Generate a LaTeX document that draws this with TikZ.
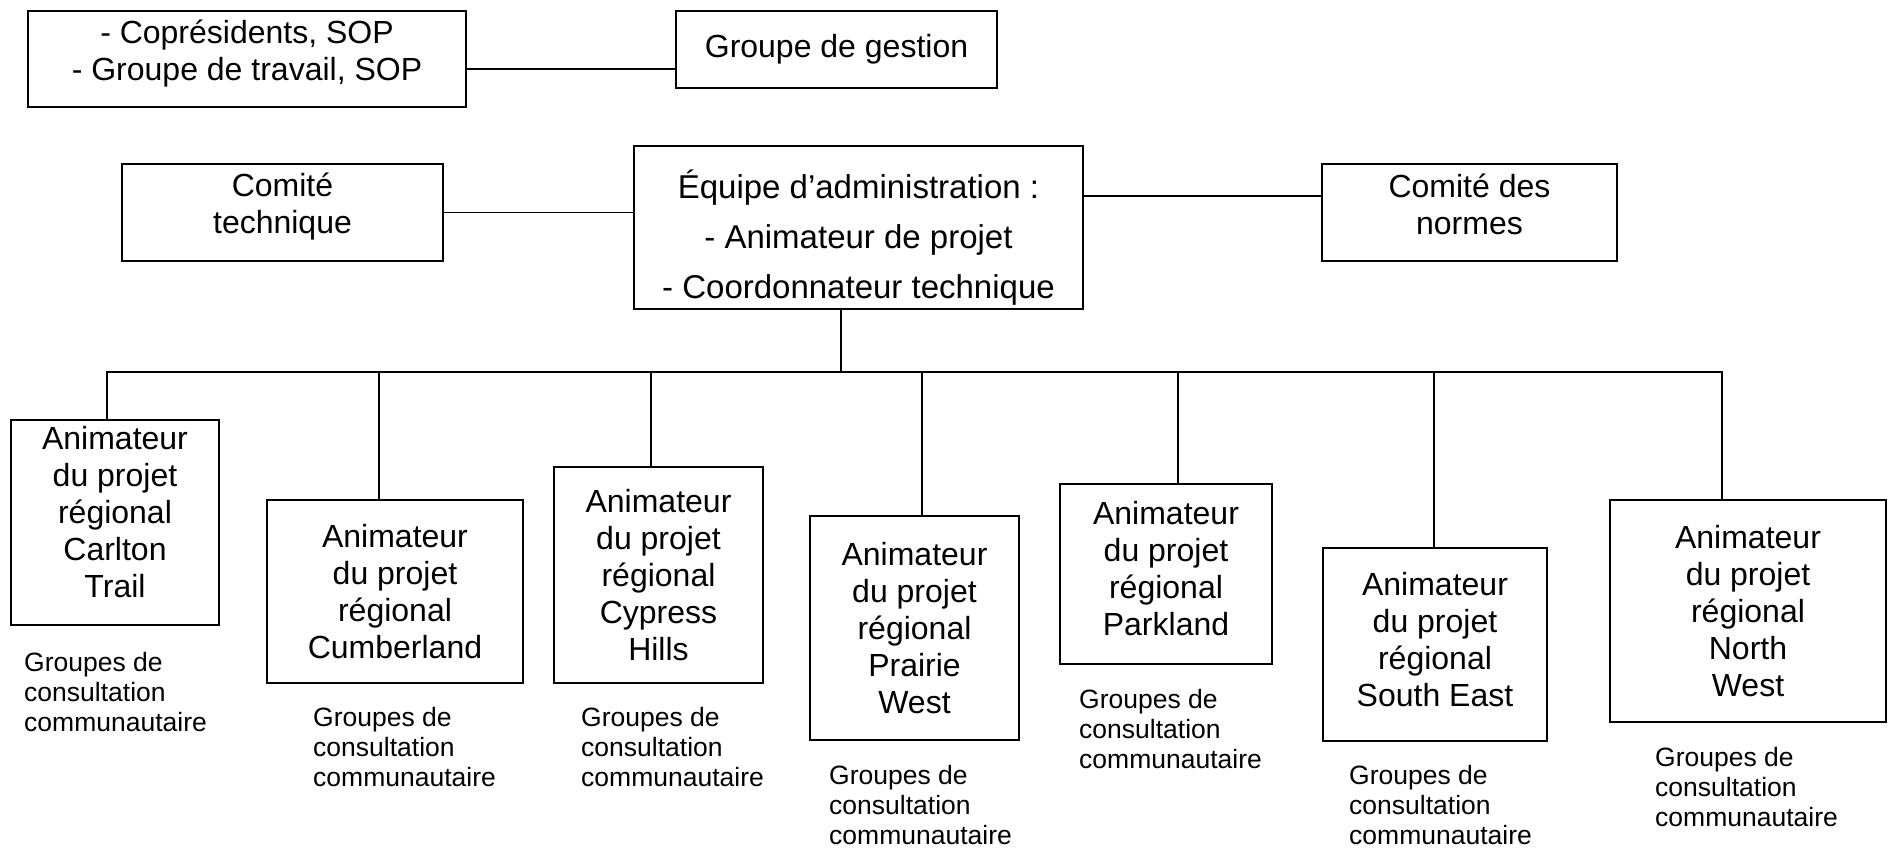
\documentclass[tikz,border=0pt]{standalone}
\usepackage{fontspec}
\setmainfont{Liberation Sans}
\usetikzlibrary{positioning}
\tikzset{
  box/.style={draw=black, line width=2pt, inner sep=0pt, align=center,
    font=\fontsize{32}{37}\selectfont},
  note/.style={inner sep=0pt, anchor=west, align=left,
    font=\fontsize{26.5}{30}\selectfont},
  link/.style={line width=1.7pt, draw=black},
}
% invisible struts to nudge the text inside a box
\newcommand{\padlow}[1]{\rule[-#1]{0pt}{#1}}
\newcommand{\padtop}[1]{\rule{0pt}{#1}}

\begin{document}
\begin{tikzpicture}[x=1pt, y=-1pt]
\useasboundingbox (0,0) rectangle (1893,848);
% top row
\node[box, minimum width=438pt, minimum height=96pt] (sop) at (247,59)
  {- Coprésidents, SOP\\- Groupe de travail, SOP\padlow{17pt}};
\node[box, minimum width=321pt, minimum height=77pt] (gestion) at (836.5,49.5)
  {Groupe de gestion};
% administration row
\node[box, minimum width=321pt, minimum height=97pt] (ct) at (282.5,212.5)
  {Comité\\technique\padlow{18pt}};
\node[box, minimum width=449pt, minimum height=163pt,
  font=\fontsize{33}{50}\selectfont] (equipe) at (858.5,227.5)
  {\padtop{48pt}Équipe d’administration :\\- Animateur de projet\\- Coordonnateur technique};
\node[box, minimum width=295pt, minimum height=97pt] (cn) at (1469.5,212.5)
  {Comité des\\normes\padlow{16pt}};
% regional animators
\node[box, minimum width=208pt, minimum height=205pt] (r1) at (115,522.5)
  {Animateur\\du projet\\régional\\Carlton\\Trail\padlow{22pt}};
\node[box, minimum width=256pt, minimum height=183pt] (r2) at (395,591.5)
  {Animateur\\du projet\\régional\\Cumberland};
\node[box, minimum width=209pt, minimum height=216pt] (r3) at (658.5,575)
  {Animateur\\du projet\\régional\\Cypress\\Hills};
\node[box, minimum width=209pt, minimum height=224pt] (r4) at (914.5,628)
  {Animateur\\du projet\\régional\\Prairie\\West};
\node[box, minimum width=212pt, minimum height=180pt] (r5) at (1166,574)
  {Animateur\\du projet\\régional\\Parkland\padlow{12pt}};
\node[box, minimum width=224pt, minimum height=193pt] (r6) at (1435,644.5)
  {Animateur\\du projet\\régional\\South East\padlow{10pt}};
\node[box, minimum width=276pt, minimum height=222pt] (r7) at (1748,611)
  {Animateur\\du projet\\régional\\North\\West};
% community groups
\node[note] (g1) at (24,692) {Groupes de\\consultation\\communautaire};
\node[note] (g2) at (313,747) {Groupes de\\consultation\\communautaire};
\node[note] (g3) at (581,747) {Groupes de\\consultation\\communautaire};
\node[note] (g4) at (829,805) {Groupes de\\consultation\\communautaire};
\node[note] (g5) at (1079,729) {Groupes de\\consultation\\communautaire};
\node[note] (g6) at (1349,805) {Groupes de\\consultation\\communautaire};
\node[note] (g7) at (1655,787) {Groupes de\\consultation\\communautaire};
% connectors
\coordinate (bus) at (841,372);
\draw[link] ([yshift=-10pt]sop.east) -- ([yshift=-10pt]sop.east -| gestion.west);
\draw[link] (ct.east) -- (ct.east -| equipe.west);
\draw[link] ([yshift=16.5pt]cn.west) -- ([yshift=16.5pt]cn.west -| equipe.east);
\draw[link] (bus |- equipe.south) -- (bus);
\draw[link] ([xshift=-8pt]r1.north) |- (bus);
\draw[link] ([xshift=-16pt]r2.north) |- (bus);
\draw[link] ([xshift=-7.5pt]r3.north) |- (bus);
\draw[link] ([xshift=7.5pt]r4.north) |- (bus);
\draw[link] ([xshift=12pt]r5.north) |- (bus);
\draw[link] ([xshift=-1pt]r6.north) |- (bus);
\draw[link] ([xshift=-26pt]r7.north) |- (bus);
\end{tikzpicture}
\end{document}
